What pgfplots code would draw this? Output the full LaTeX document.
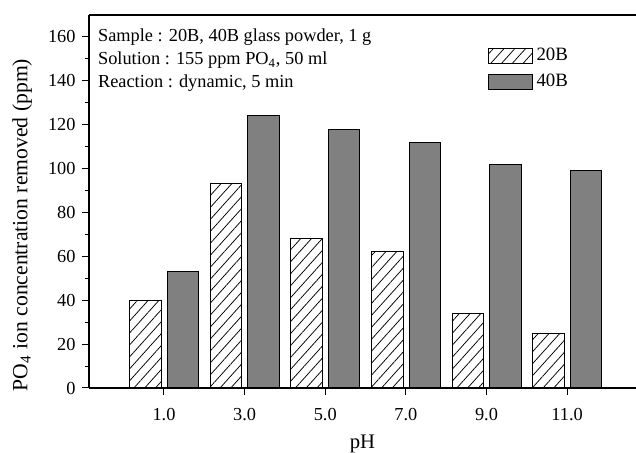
\documentclass[border=0pt]{standalone}
\usepackage{fontspec}
\setmainfont{Liberation Serif}
\usepackage{pgfplots}
\pgfplotsset{compat=1.18}
\usetikzlibrary{patterns.meta}

\definecolor{barGray}{RGB}{128,128,128}

\begin{document}
\fontsize{11}{13}\selectfont
\begin{tikzpicture}
\begin{axis}[
  scale only axis,
  width=328.2pt, height=223.8pt,
  xmin=-0.86, xmax=12.71,
  ymin=0, ymax=170,
  axis x line=box,
  axis y line*=left,
  ybar,
  xtick={1,3,5,7,9,11},
  xticklabels={1.0,3.0,5.0,7.0,9.0,11.0},
  ytick={0,20,...,160},
  minor y tick num=1,
  xtick pos=bottom, ytick pos=left,
  tick align=outside,
  major tick length=4.2pt,
  minor tick length=2.6pt,
  tick style={black, line width=0.6pt},
  axis line style={line width=0.7pt},
  /pgf/number format/assume math mode=true,
  ticklabel style={font=\fontsize{11}{13}\selectfont},
  xticklabel style={yshift=-4pt},
  xlabel={pH},
  ylabel={PO\textsubscript{4} ion concentration removed (ppm)},
  xlabel style={yshift=-1pt, font=\fontsize{12.4}{14}\selectfont},
  ylabel style={at={(axis description cs:-0.122,0.437)}, anchor=center,
    font=\fontsize{13}{15}\selectfont},
  legend style={draw=none, fill=none, at={(0.72,0.93)}, anchor=north west,
    font=\fontsize{11.3}{13}\selectfont, row sep=2.5pt,
    /tikz/every even column/.append style={column sep=2pt}},
  legend cell align=left,
  legend image code/.code={\draw[#1, line width=0.6pt] (0pt,-4.6pt) rectangle (26.4pt,4.6pt);},
  clip=false,
]
\addplot[draw=black, line width=0.6pt, fill=white,
  postaction={pattern={Lines[angle=48, distance=4.8pt, line width=0.45pt]}},
  bar width=0.78, bar shift=-0.46]
  coordinates {(1,40) (3,93) (5,68) (7,62) (9,34) (11,25)};
\addlegendentry{20B}
\addplot[draw=black, line width=0.6pt, fill=barGray,
  bar width=0.78, bar shift=0.47]
  coordinates {(1,53) (3,124) (5,118) (7,112) (9,102) (11,99)};
\addlegendentry{40B}

\node[anchor=north west, align=left, inner sep=0pt,
  font=\fontsize{11}{13.8}\selectfont]
  at (rel axis cs:0.016,0.964)
  {Sample : 20B, 40B glass powder, 1 g\\
   Solution : 155 ppm PO\textsubscript{4}, 50 ml\\
   Reaction : dynamic, 5 min};
\end{axis}
\pgfresetboundingbox
\path[use as bounding box]
  ([xshift=-53.4pt,yshift=-39pt]current axis.south west)
  rectangle ([yshift=9pt]current axis.north east);
\end{tikzpicture}
\end{document}
